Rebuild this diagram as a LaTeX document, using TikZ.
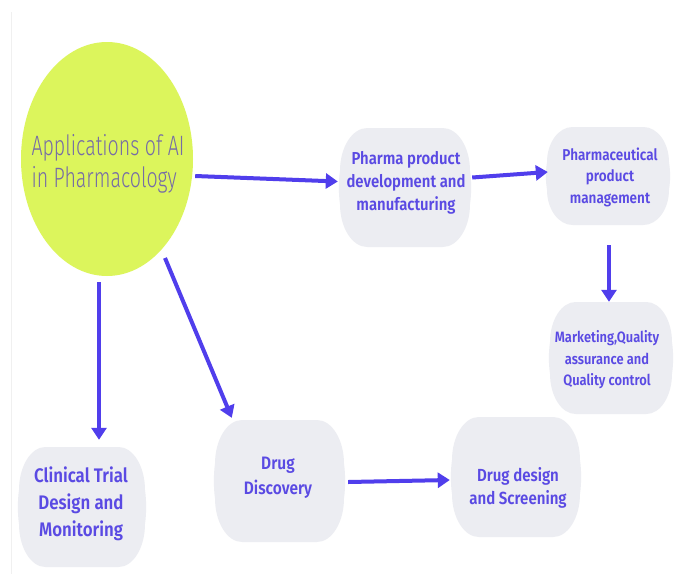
\documentclass[tikz,border=0pt]{standalone}
\usepackage{fontspec}
\setmainfont{Fira Sans}
\newfontfamily\circfont{Fira Sans Light}
\newfontfamily\boxfont{Fira Sans SemiBold}
\usetikzlibrary{shapes.geometric,arrows.meta}
\definecolor{circfill}{RGB}{220,245,92}
\definecolor{circtext}{RGB}{118,108,166}
\definecolor{boxfill}{RGB}{236,237,242}
\definecolor{boxtext}{RGB}{90,74,227}
\definecolor{arrowcol}{RGB}{80,62,236}
\tikzset{
  blobtext/.style={align=center, text=boxtext, inner sep=0pt},
  conn/.style={draw=arrowcol, line width=4pt,
    -{Triangle[length=12pt,width=15pt]}},
}
\newcommand{\cx}[1]{\scalebox{0.86}[1]{#1}}
\newcommand{\ccx}[1]{\scalebox{0.70}[1]{#1}}
\newcommand{\bfs}[2]{\boxfont\fontsize{#1}{#2}\selectfont}
% \blob{name}{cx}{cy}{w}{h}
\newcommand{\blob}[5]{%
  \pgfmathsetmacro\bw{#4/2}\pgfmathsetmacro\bh{#5/2}%
  \pgfmathsetmacro\rx{0.21*#4}\pgfmathsetmacro\ry{0.36*#5}%
  \fill[boxfill]
    (#2-\bw+\rx,#3-\bh) -- (#2+\bw-\rx,#3-\bh)
    .. controls (#2+\bw-0.448*\rx,#3-\bh) and (#2+\bw,#3-\bh+0.448*\ry) .. (#2+\bw,#3-\bh+\ry)
    .. controls (#2+\bw+1.5,#3-\bh+\ry+10) and (#2+\bw+1.5,#3+\bh-\ry-10) .. (#2+\bw,#3+\bh-\ry)
    .. controls (#2+\bw,#3+\bh-0.448*\ry) and (#2+\bw-0.448*\rx,#3+\bh) .. (#2+\bw-\rx,#3+\bh)
    -- (#2-\bw+\rx,#3+\bh)
    .. controls (#2-\bw+0.448*\rx,#3+\bh) and (#2-\bw,#3+\bh-0.448*\ry) .. (#2-\bw,#3+\bh-\ry)
    .. controls (#2-\bw-1.5,#3+\bh-\ry-10) and (#2-\bw-1.5,#3-\bh+\ry+10) .. (#2-\bw,#3-\bh+\ry)
    .. controls (#2-\bw,#3-\bh+0.448*\ry) and (#2-\bw+0.448*\rx,#3-\bh) .. cycle;
  \node[minimum width=#4pt, minimum height=#5pt, inner sep=0pt] (#1) at (#2,#3) {};
}
\begin{document}
\begin{tikzpicture}[x=1pt,y=-1pt]
\useasboundingbox (0,0) rectangle (686,574);
\fill[white] (0,0) rectangle (686,574);
\draw[black!6, line width=0.8pt] (11,12) -- (11,574);
\node[ellipse, fill=circfill, minimum width=172pt, minimum height=234pt,
  inner sep=0pt] (circ) at (107,159) {};
\node[align=left, text=circtext, inner sep=0pt,
  font=\circfont\fontsize{28}{32}\selectfont] (circtxt) at (108,164)
  {\ccx{Applications of AI}\\\ccx{in Pharmacology}};
\blob{pharma}{405}{187.5}{130}{119}
\blob{pmgmt}{608}{176}{122}{98}
\blob{mkt}{611}{358}{122}{112}
\blob{clin}{82}{507}{126}{120}
\blob{disc}{279.5}{481}{129}{122}
\blob{design}{516}{477}{128}{120}
\node[blobtext, font=\bfs{17.3}{23}] (pharmatxt) at (406,183)
  {\cx{Pharma product}\\\cx{development and}\\\cx{manufacturing}};
\node[blobtext, font=\bfs{15.7}{21.5}] (pmgmttxt) at (610,177)
  {\cx{Pharmaceutical}\\\cx{product}\\\cx{management}};
\node[blobtext, font=\bfs{15}{21.5}] (mkttxt) at (607,360)
  {\cx{Marketing,Quality}\\\cx{assurance and}\\\cx{Quality control}};
\node[blobtext, font=\bfs{19.6}{27}] (clintxt) at (81,504)
  {\cx{Clinical Trial}\\\cx{Design and}\\\cx{Monitoring}};
\node[blobtext, font=\bfs{18}{25}] (disctxt) at (278,478)
  {\cx{Drug}\\\cx{Discovery}};
\node[blobtext, font=\bfs{17.5}{23}] (designtxt) at (518,488)
  {\cx{Drug design}\\\cx{and Screening}};
\draw[conn] ([xshift=2pt,yshift=-17pt]circ.east) -- ([xshift=-2pt,yshift=6pt]pharma.west);
\draw[conn] ([xshift=2pt,yshift=10pt]pharma.east) -- ([xshift=1pt,yshift=4pt]pmgmt.west);
\draw[conn] ([xshift=1pt,yshift=-20pt]pmgmt.south) -- ([xshift=-2pt]mkt.north);
\draw[conn] ([xshift=-8pt,yshift=-6pt]circ.south) -- ([xshift=17pt,yshift=7pt]clin.north);
\draw[conn] ([xshift=58pt,yshift=-99pt]circ.center) -- ([xshift=17pt,yshift=2pt]disc.north west);
\draw[conn] ([xshift=4pt,yshift=-1pt]disc.east) -- ([xshift=-2pt,yshift=-3pt]design.west);
\end{tikzpicture}
\end{document}
